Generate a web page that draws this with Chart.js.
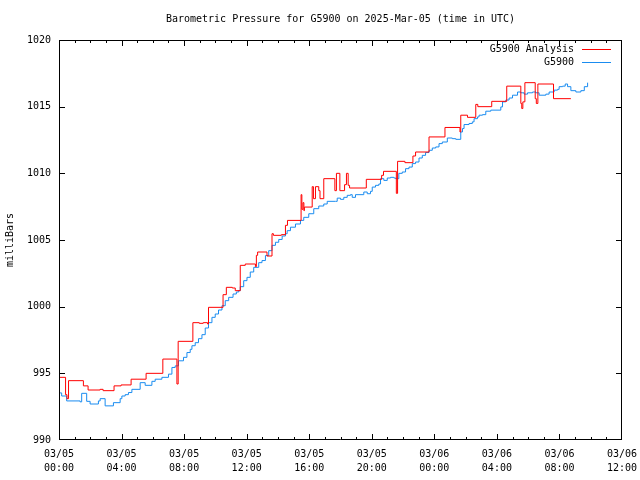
<!DOCTYPE html>
<html>
<head>
<meta charset="utf-8">
<script src="https://cdn.jsdelivr.net/npm/chart.js@4"></script>
<style>
  html, body { margin: 0; padding: 0; background: #fff; }
  #wrap { width: 640px; height: 480px; }
</style>
</head>
<body>
<div id="wrap"><canvas id="chart1" width="640" height="480"></canvas></div>
<script>
// hours since 03/05 00:00 UTC, pressure in milliBars
const titleText = "Barometric Pressure for G5900 on 2025-Mar-05 (time in UTC)";
const yTicks = [990, 995, 1000, 1005, 1010, 1015, 1020];
const xTicks = [0, 4, 8, 12, 16, 20, 24, 28, 32, 36];

const analysisHours = [0.00, 0.42, 0.51, 0.61, 1.56, 1.86, 2.63, 2.82, 3.52, 3.97, 4.61, 5.57, 6.64, 7.54, 7.62,
    8.56, 8.97, 9.22, 9.50, 9.56, 10.49, 10.70, 11.08, 11.27, 11.59, 11.91, 12.56, 12.62, 12.70, 13.30, 13.62,
    13.71, 14.22, 14.48, 14.61, 15.48, 15.53, 15.60, 15.66, 15.69, 16.19, 16.27, 16.40, 16.61, 16.69, 16.93,
    17.64, 17.74, 17.96, 18.26, 18.38, 18.49, 18.58, 19.65, 20.63, 20.75, 21.57, 21.65, 22.12, 22.63, 22.80,
    23.66, 24.68, 25.64, 25.69, 26.12, 26.65, 26.78, 27.67, 28.63, 29.53, 29.59, 29.66, 29.79, 30.45, 30.52,
    30.62, 31.62, 32.73];
const analysisValues = [994.7, 993.4, 993.1, 994.45, 994.06, 993.75, 993.8, 993.7, 994.06, 994.13, 994.56, 995.0, 996.07, 994.2, 997.4,
    998.8, 998.75, 998.8, 998.7, 999.95, 1000.9, 1001.45, 1001.4, 1001.2, 1003.1, 1003.2, 1003.0, 1003.85, 1004.1, 1003.8, 1005.47,
    1005.35, 1005.4, 1006.1, 1006.47, 1008.4, 1007.3, 1007.8, 1007.2, 1007.47, 1009.0, 1008.1, 1009.0, 1008.7, 1008.1, 1009.6,
    1008.7, 1010.0, 1008.7, 1009.15, 1010.0, 1009.1, 1008.9, 1009.55, 1009.85, 1010.15, 1008.5, 1010.9, 1010.8, 1011.3, 1011.6,
    1012.73, 1013.44, 1013.1, 1014.36, 1014.2, 1015.17, 1015.0, 1015.4, 1016.54, 1015.24, 1014.86, 1015.36, 1016.8, 1015.6, 1015.24,
    1016.7, 1015.6, 1015.6];

const obsHours = [0.00, 0.17, 0.49, 1.35, 1.45, 1.77, 1.99, 2.52, 2.63, 2.95, 3.48, 3.91, 4.02, 4.23, 4.44, 4.66, 5.19, 5.51,
    5.94, 6.15, 6.58, 7.00, 7.22, 7.43, 7.64, 7.96, 8.18, 8.39, 8.50, 8.71, 8.92, 9.14, 9.35, 9.56, 9.78, 9.99, 10.20,
    10.42, 10.63, 10.85, 11.13, 11.34, 11.49, 11.59, 11.81, 12.02, 12.23, 12.45, 12.77, 12.98, 13.20, 13.41, 13.62,
    13.84, 14.05, 14.27, 14.48, 14.59, 14.80, 15.12, 15.44, 15.65, 15.97, 16.29, 16.61, 16.93, 17.15, 17.68, 17.79,
    18.00, 18.21, 18.43, 18.64, 18.75, 18.96, 19.49, 19.71, 19.92, 20.03, 20.24, 20.45, 20.56, 20.77, 20.99, 21.20,
    21.41, 21.52, 21.73, 21.95, 22.16, 22.38, 22.59, 22.80, 23.02, 23.23, 23.44, 23.66, 23.87, 24.09, 24.30, 24.51,
    24.83, 25.15, 25.37, 25.69, 25.80, 25.90, 26.22, 26.43, 26.54, 26.76, 26.86, 27.08, 27.29, 27.61, 28.25, 28.36,
    28.57, 28.78, 29.00, 29.32, 29.53, 29.74, 29.96, 30.28, 30.49, 30.70, 31.13, 31.34, 31.66, 31.88, 31.98, 32.20,
    32.37, 32.52, 32.73, 33.05, 33.37, 33.59, 33.80];
const obsValues = [993.53, 993.3, 992.93, 992.86, 993.5, 992.9, 992.7, 992.93, 993.1, 992.56, 992.8, 993.1, 993.3, 993.4, 993.56, 993.8, 994.3, 994.1,
    994.4, 994.56, 994.7, 994.94, 995.44, 995.56, 995.94, 996.2, 996.56, 996.8, 997.07, 997.3, 997.6, 997.9, 998.4, 998.8, 999.2, 999.45, 999.75,
    1000.07, 1000.45, 1000.7, 1000.95, 1001.1, 1001.2, 1001.5, 1001.95, 1002.2, 1002.6, 1002.95, 1003.3, 1003.46, 1003.83, 1004.2, 1004.6,
    1004.83, 1005.04, 1005.3, 1005.47, 1005.7, 1005.96, 1006.2, 1006.47, 1006.7, 1006.97, 1007.35, 1007.55, 1007.7, 1007.9, 1007.9, 1008.14,
    1008.05, 1008.2, 1008.35, 1008.4, 1008.2, 1008.4, 1008.6, 1008.47, 1008.65, 1008.97, 1009.1, 1009.2, 1009.6, 1009.47, 1009.65, 1009.7,
    1009.65, 1009.6, 1010.0, 1010.1, 1010.35, 1010.47, 1010.73, 1010.85, 1011.15, 1011.35, 1011.56, 1011.73, 1011.9, 1011.98, 1012.23, 1012.35,
    1012.65, 1012.6, 1012.55, 1013.1, 1013.36, 1013.66, 1013.74, 1013.86, 1014.1, 1014.23, 1014.36, 1014.4, 1014.66, 1014.74, 1014.98, 1015.36,
    1015.5, 1015.65, 1015.86, 1016.1, 1016.04, 1015.94, 1016.04, 1016.1, 1016.04, 1015.86, 1015.94, 1016.1, 1016.24, 1016.3, 1016.5, 1016.54,
    1016.7, 1016.5, 1016.2, 1016.1, 1016.2, 1016.5, 1016.8];

const monoFont = '"DejaVu Sans Mono", "Liberation Mono", monospace';

function toPoints(xs, ys) {
    let pts = [];
    for (let i = 0; i < xs.length; i++) {
        pts.push({ x: xs[i], y: ys[i] });
    }
    return pts;
}

function timeLabel(h) {
    let day = h < 24 ? "03/05" : "03/06";
    let hh = h % 24;
    return [day, String(hh).padStart(2, "0") + ":00"];
}

// gnuplot look: frame, inward ticks on all sides, title, legend inside top right
const gnuFrame = {
    id: "gnuFrame",
    afterDraw(chart) {
        const ctx = chart.ctx;
        const a = chart.chartArea;
        const xs = chart.scales.x;
        const ys = chart.scales.y;
        ctx.save();
        ctx.strokeStyle = "#000";
        ctx.lineWidth = 1;
        ctx.beginPath();
        ctx.rect(a.left + 0.5, a.top + 0.5, a.right - a.left - 1, a.bottom - a.top - 1);
        yTicks.forEach((v) => {
            let py = Math.round(ys.getPixelForValue(v)) + 0.5;
            if (v === 1020) py = a.top + 0.5;
            if (v === 990) py = a.bottom - 0.5;
            ctx.moveTo(a.left, py);
            ctx.lineTo(a.left + 6, py);
            ctx.moveTo(a.right, py);
            ctx.lineTo(a.right - 6, py);
        });
        for (let h = 0; h <= 36; h++) {
            let px = Math.round(xs.getPixelForValue(h)) + 0.5;
            if (h === 36) px = a.right - 0.5;
            let len = h % 4 === 0 ? 6 : 3;
            ctx.moveTo(px, a.bottom);
            ctx.lineTo(px, a.bottom - len);
            ctx.moveTo(px, a.top);
            ctx.lineTo(px, a.top + len);
        }
        ctx.stroke();

        ctx.fillStyle = "#000";
        ctx.font = "10px " + monoFont;
        ctx.textAlign = "center";
        ctx.textBaseline = "middle";
        ctx.fillText(titleText, (a.left + a.right) / 2, 19);

        ctx.textAlign = "right";
        chart.data.datasets.forEach((ds, i) => {
            let ly = a.top + 9 + i * 13;
            ctx.fillStyle = "#000";
            ctx.fillText(ds.label, a.right - 48, ly);
            ctx.strokeStyle = ds.borderColor;
            ctx.beginPath();
            ctx.moveTo(a.right - 40, ly + 0.5);
            ctx.lineTo(a.right - 11, ly + 0.5);
            ctx.stroke();
        });
        ctx.restore();
    },
};

let ctx = document.getElementById("chart1");
let chart1 = new Chart(ctx, {
    type: "line",
    data: {
        datasets: [{
                label: "G5900 Analysis",
                data: toPoints(analysisHours, analysisValues),
                borderColor: "#ff0000",
                borderWidth: 1,
                stepped: "before",
                pointRadius: 0,
                fill: false,
            },
            {
                label: "G5900",
                data: toPoints(obsHours, obsValues),
                borderColor: "#1a8cf0",
                borderWidth: 1,
                stepped: "before",
                pointRadius: 0,
                fill: false,
            },
        ],
    },
    options: {
        responsive: false,
        animation: false,
        layout: {
            padding: { top: 40, right: 18, left: 0, bottom: 0 },
        },
        plugins: {
            legend: { display: false },
            title: { display: false },
            tooltip: { enabled: false },
        },
        scales: {
            x: {
                type: "linear",
                min: 0,
                max: 36,
                grid: { display: false, tickLength: 0 },
                border: { display: false },
                afterFit: (s) => {
                    s.height = 40;
                    s.paddingLeft = 0;
                    s.paddingRight = 0;
                },
                afterBuildTicks: (s) => { s.ticks = xTicks.map((v) => ({ value: v })); },
                ticks: {
                    autoSkip: false,
                    maxRotation: 0,
                    padding: 7,
                    color: "#000",
                    font: { family: monoFont, size: 10, lineHeight: 1.4 },
                    callback: (v) => timeLabel(v),
                },
            },
            y: {
                min: 990,
                max: 1020,
                grid: { display: false, tickLength: 0 },
                border: { display: false },
                afterFit: (s) => {
                    s.width = 59;
                    s.paddingTop = 0;
                    s.paddingBottom = 0;
                },
                afterBuildTicks: (s) => { s.ticks = yTicks.map((v) => ({ value: v })); },
                title: {
                    display: true,
                    text: "milliBars",
                    color: "#000",
                    font: { family: monoFont, size: 10 },
                    padding: { top: 4, bottom: 0 },
                },
                ticks: {
                    padding: 8,
                    color: "#000",
                    font: { family: monoFont, size: 10 },
                    callback: (v) => String(v),
                },
            },
        },
    },
    plugins: [gnuFrame],
});
</script>
</body>
</html>
